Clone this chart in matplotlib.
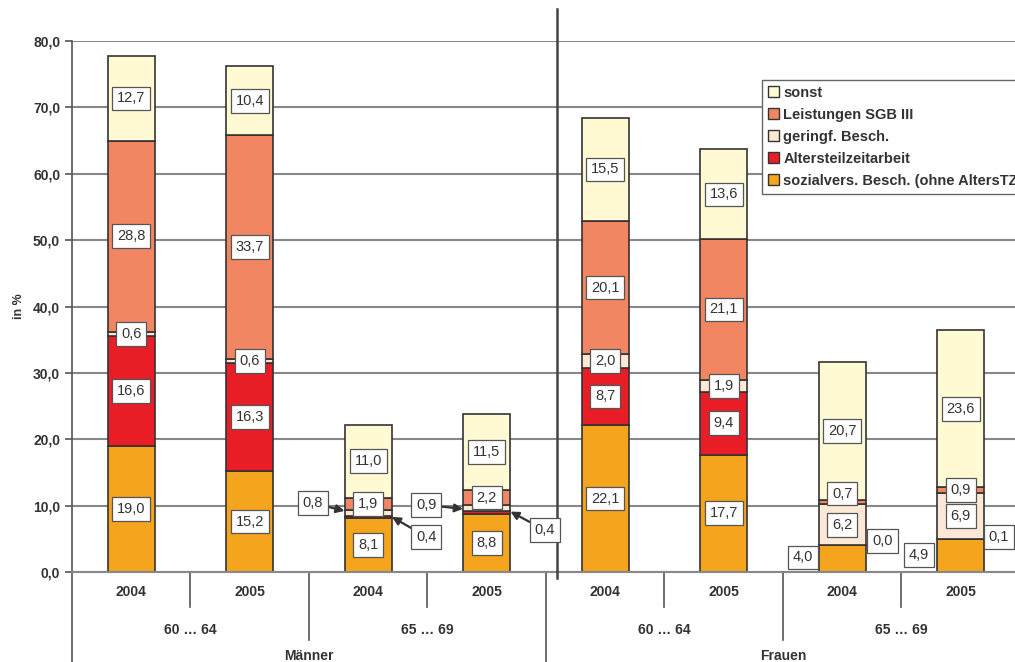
import matplotlib
matplotlib.use("Agg")
import matplotlib.pyplot as plt
from matplotlib.lines import Line2D
from matplotlib.patches import Patch
from matplotlib.ticker import FuncFormatter
import numpy as np

plt.rcParams['font.family'] = ['Liberation Sans', 'DejaVu Sans']

# Daten
jahre = ['2004', '2005', '2004', '2005', '2004', '2005', '2004', '2005']
altersgruppen = ['60 … 64', '65 … 69', '60 … 64', '65 … 69']
geschlecht = ['Männer', 'Frauen']

sozialvers = [19.0, 15.2, 8.1, 8.8, 22.1, 17.7, 4.0, 4.9]
altersteilzeit = [16.6, 16.3, 0.4, 0.4, 8.7, 9.4, 0.0, 0.1]
geringf = [0.6, 0.6, 0.8, 0.9, 2.0, 1.9, 6.2, 6.9]
leistungen = [28.8, 33.7, 1.9, 2.2, 20.1, 21.1, 0.7, 0.9]
sonst = [12.7, 10.4, 11.0, 11.5, 15.5, 13.6, 20.7, 23.6]

reihen = ['sozialvers. Besch. (ohne AltersTZ)', 'Altersteilzeitarbeit',
          'geringf. Besch.', 'Leistungen SGB III', 'sonst']
farben = ['#F5A41E', '#E81D25', '#FDE8D6', '#F28663', '#FFF9D4']

werte = [sozialvers, altersteilzeit, geringf, leistungen, sonst]

fig = plt.figure(figsize=(10.15, 6.62), dpi=100)
ax = fig.add_axes([0.0709, 0.136, 0.934, 0.802])

x = np.arange(len(jahre))
breite = 0.4
unten = np.zeros(len(jahre))
for serie, farbe in zip(werte, farben):
    ax.bar(x, serie, breite, bottom=unten, color=farbe, edgecolor='#333333',
           linewidth=1.2, zorder=3)
    unten += np.array(serie)

ax.set_xlim(-0.5, 7.5)
ax.set_ylim(0, 80)
ax.set_yticks(np.arange(0, 81, 10))
ax.yaxis.set_major_formatter(FuncFormatter(lambda v, p: f"{v:.1f}".replace('.', ',')))
for t in ax.get_yticklabels():
    t.set_fontweight('bold')
    t.set_color('#333333')
ax.tick_params(axis='y', labelsize=10, length=5, width=1.2, color='#555555', direction='out')
ax.set_xticks([])
ax.grid(axis='y', color='#888888', linewidth=1.5, zorder=0)
for s in ['top', 'right', 'bottom']:
    ax.spines[s].set_visible(False)
ax.spines['left'].set_color('#555555')
ax.spines['left'].set_linewidth(1.2)
ax.set_ylabel('in %', fontsize=9, fontweight='bold', color='#333333', labelpad=6)

# Trennlinie zwischen Maennern und Frauen
ax.add_line(Line2D([3.59, 3.59], [-0.012, 1.06], transform=ax.get_xaxis_transform(),
                   color='#444444', lw=1.8, clip_on=False, zorder=5))

# Beschriftungen der Segmente
box = dict(boxstyle='square,pad=0.33', fc='white', ec='#555555', lw=0.9)
pfeil = dict(arrowstyle='-|>', color='#333333', lw=1.6, mutation_scale=12,
             shrinkA=0, shrinkB=0)
# (balken, segment) -> (x, y, Pfeilspitze oder None)
sonderlage = {
    (2, 1): (2.49, 5.3, (2.2, 8.3)),
    (2, 2): (1.53, 10.4, (1.8, 9.2)),
    (3, 2): (2.49, 10.1, (2.8, 9.5)),
    (3, 1): (3.49, 6.3, (3.2, 9.1)),
    (6, 0): (5.67, 2.2, None),
    (6, 1): (6.34, 4.7, None),
    (6, 3): (6.0, 11.8, None),
    (7, 0): (6.65, 2.6, None),
    (7, 1): (7.32, 5.3, None),
}
for i in range(len(jahre)):
    basis = 0
    for k, serie in enumerate(werte):
        v = serie[i]
        text = f"{v:.1f}".replace('.', ',')
        if (i, k) in sonderlage:
            lx, ly, spitze = sonderlage[(i, k)]
            if spitze is None:
                ax.text(lx, ly, text, ha='center', va='center', fontsize=10.5,
                        color='#333333', bbox=box, zorder=6)
            else:
                ax.annotate(text, xy=spitze, xytext=(lx, ly), ha='center', va='center',
                            fontsize=10.5, color='#333333', bbox=box,
                            arrowprops=pfeil, zorder=6)
        else:
            ax.text(i, basis + v / 2, text, ha='center', va='center', fontsize=10.5,
                    color='#333333', bbox=box, zorder=6)
        basis += v

# mehrstufige x-Achse
tr = ax.get_xaxis_transform()
def linie(xp, y1):
    ax.add_line(Line2D([xp, xp], [0, y1], transform=tr, color='#555555', lw=1.2,
                       clip_on=False))

ax.add_line(Line2D([-0.5, 7.5], [0, 0], transform=tr, color='#888888', lw=1.5,
                   clip_on=False, zorder=4))
for i, j in enumerate(jahre):
    ax.text(i, -0.038, j, transform=tr, ha='center', va='center', fontsize=10,
            fontweight='bold', color='#333333')
for i, g in enumerate(altersgruppen):
    ax.text(2 * i + 0.5, -0.109, g, transform=tr, ha='center', va='center',
            fontsize=10, fontweight='bold', color='#333333')
for i, g in enumerate(geschlecht):
    ax.text(4 * i + 1.5, -0.158, g, transform=tr, ha='center', va='center',
            fontsize=10, fontweight='bold', color='#333333')
for xp in [0.5, 2.5, 4.5, 6.5]:
    linie(xp, -0.066)
for xp in [1.5, 5.5]:
    linie(xp, -0.128)
for xp in [-0.5, 3.5, 7.5]:
    linie(xp, -0.2)

# Legende
griffe = [Patch(facecolor=f, edgecolor='#333333', lw=1.0) for f in farben][::-1]
leg = ax.legend(griffe, reihen[::-1], loc='upper left', bbox_to_anchor=(0.728, 0.927),
                fancybox=False, framealpha=1, edgecolor='#666666', handlelength=0.75,
                handleheight=0.75, handletextpad=0.3, labelspacing=0.55,
                borderpad=0.4, borderaxespad=0, prop={'weight': 'bold', 'size': 10.5})
leg.get_frame().set_linewidth(1.0)
for t in leg.get_texts():
    t.set_color('#333333')
leg.set_zorder(7)

fig.savefig('out.png', dpi=100)
